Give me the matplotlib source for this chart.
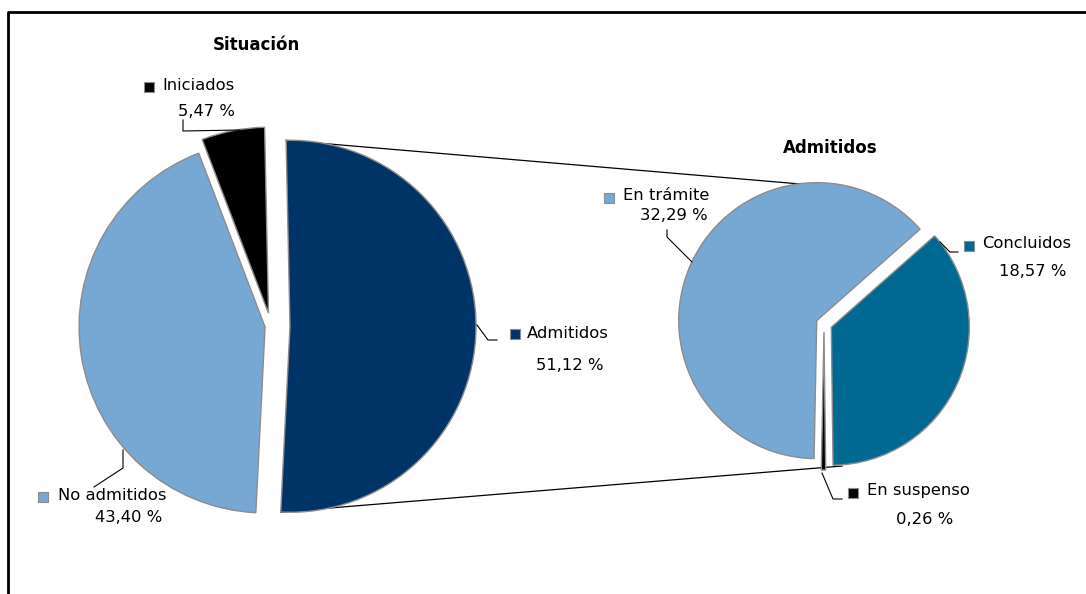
import math
import matplotlib
matplotlib.use("Agg")
import matplotlib.pyplot as plt
from matplotlib.patches import Rectangle

# datos
situacion_labels = ['Admitidos', 'No admitidos', 'Iniciados']
situacion_values = [51.12, 43.40, 5.47]
situacion_colors = ['#003366', '#77A7D3', '#000000']

admitidos_labels = ['Concluidos', 'En suspenso', 'En trámite']
admitidos_values = [18.57, 0.26, 32.29]
admitidos_colors = ['#006991', '#000000', '#77A7D3']

W, H = 1086, 594
plt.rcParams['font.family'] = ['DejaVu Sans']


def Y(y):
    # coordenadas de imagen -> coordenadas de datos (y hacia arriba)
    return H - y


def fmt(v):
    return f"{v:.2f}".replace('.', ',') + " %"


fig = plt.figure(figsize=(W / 100, H / 100), dpi=100)
ax = fig.add_axes([0, 0, 1, 1])

# pie izquierdo
left_c = (271, Y(326))
left_r = 186
w_left, _ = ax.pie(situacion_values, colors=situacion_colors, startangle=91.2,
                   counterclock=False, center=left_c, radius=left_r,
                   explode=[19, 6, 13],
                   wedgeprops=dict(edgecolor='#8c8c8c', linewidth=1.0))

# pie derecho
right_c = (824, Y(324))
right_r = 138
w_right, _ = ax.pie(admitidos_values, colors=admitidos_colors, startangle=41.5,
                    counterclock=False, center=right_c, radius=right_r,
                    explode=[8, 8, 8],
                    wedgeprops=dict(edgecolor='#8c8c8c', linewidth=1.0))

ax.set_xlim(0, W)
ax.set_ylim(0, H)
ax.set_aspect('equal')
ax.axis('off')

# lineas de union
adm = w_left[0]
cx, cy = adm.center
p_top = (cx + adm.r * math.cos(math.radians(adm.theta2)),
         cy + adm.r * math.sin(math.radians(adm.theta2)))
p_bot = (cx + adm.r * math.cos(math.radians(adm.theta1)),
         cy + adm.r * math.sin(math.radians(adm.theta1)))
ax.plot([p_top[0], right_c[0]], [p_top[1], right_c[1] + right_r],
        color='black', lw=0.9, zorder=0)
ax.plot([p_bot[0], right_c[0] + 18], [p_bot[1], right_c[1] - right_r - 4],
        color='black', lw=0.9, zorder=0)

# titulos
ax.text(256, Y(45), 'Situación', ha='center', va='center', fontsize=12,
        fontweight='bold')
ax.text(830, Y(148), 'Admitidos', ha='center', va='center', fontsize=12,
        fontweight='bold')

FS = 11.8


def label(name, value, color, sq, name_xy, val_xy, leader):
    ax.add_patch(Rectangle((sq[0] - 5, Y(sq[1]) - 5), 10, 10,
                           facecolor=color, edgecolor='#8c8c8c', lw=0.8))
    ax.text(name_xy[0], Y(name_xy[1]), name, ha='left', va='center',
            fontsize=FS)
    ax.text(val_xy[0], Y(val_xy[1]), fmt(value), ha='center', va='center',
            fontsize=FS)
    ax.plot([p[0] for p in leader], [Y(p[1]) for p in leader],
            color='black', lw=0.8)


label(situacion_labels[0], situacion_values[0], situacion_colors[0],
      (515, 334), (527, 333), (570, 366),
      [(477, 325), (488, 340), (497, 340)])
label(situacion_labels[1], situacion_values[1], situacion_colors[1],
      (43, 497), (58, 496), (129, 517),
      [(94, 487), (123, 468), (123, 450)])
label(situacion_labels[2], situacion_values[2], situacion_colors[2],
      (149, 87), (162, 86), (206, 112),
      [(183, 120), (183, 131), (240, 130)])

label(admitidos_labels[0], admitidos_values[0], admitidos_colors[0],
      (969, 246), (982, 243), (1033, 272),
      [(940, 242), (950, 252), (958, 252)])
label(admitidos_labels[1], admitidos_values[1], admitidos_colors[1],
      (853, 493), (867, 490), (925, 519),
      [(822, 473), (833, 499), (842, 499)])
label(admitidos_labels[2], admitidos_values[2], admitidos_colors[2],
      (609, 198), (623, 196), (674, 215),
      [(667, 230), (667, 237), (692, 262)])

# marco
ax.plot([8, 8, W + 5], [-5, Y(12), Y(12)], color='black', lw=2,
        clip_on=False)

fig.savefig('out.png', dpi=100)
